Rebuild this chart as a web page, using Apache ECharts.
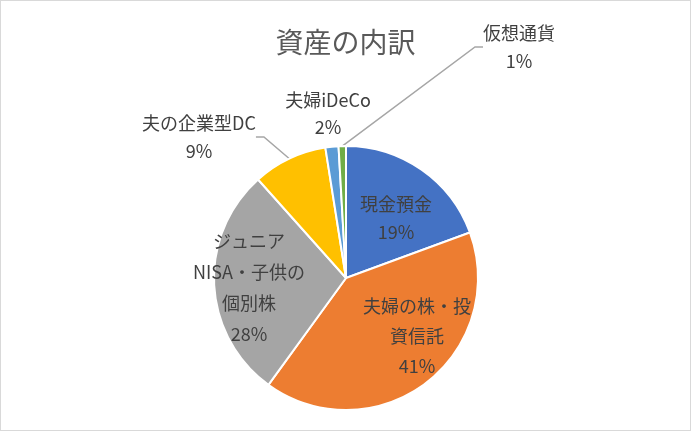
<!DOCTYPE html>
<html>
<head>
<meta charset="utf-8">
<script src="https://cdn.jsdelivr.net/npm/echarts@6/dist/echarts.min.js"></script>
<style>
  html, body { margin: 0; padding: 0; background: #fff; }
  #chart { width: 689px; height: 429px; border: 1px solid #d9d9d9; }
</style>
</head>
<body>
<div id="chart"></div>
<script>
// データ
var categories = ['現金預金', '夫婦の株・投資信託', 'ジュニアNISA・子供の個別株', '夫の企業型DC', '夫婦iDeCo', '仮想通貨'];
var labelNames = ['現金預金', '夫婦の株・投\n資信託', 'ジュニア\nNISA・子供の\n個別株', '夫の企業型DC', '夫婦iDeCo', '仮想通貨'];
var values = [19.4, 40.6, 28.4, 9.1, 1.6, 0.9];
var colors = ['#4472C4', '#ED7D31', '#A5A5A5', '#FFC000', '#5B9BD5', '#70AD47'];

// ラベルの位置 (中心)
var labelPos = [[395, 217], [416, 335], [248, 287], [198, 136], [327, 113], [518, 46]];
var lineHeights = [28, 30, 31, 28, 27, 28];

var font = '"Noto Sans CJK JP", "Noto Sans", sans-serif';

var chart = echarts.init(document.getElementById('chart'));
chart.setOption({
    animation: false,
    title: {
        text: '資産の内訳',
        left: 'center',
        top: 22,
        textStyle: { fontFamily: font, fontSize: 28, fontWeight: 'normal', color: '#595959' }
    },
    series: [{
        type: 'pie',
        center: [345, 277],
        radius: 132,
        startAngle: 90,
        clockwise: true,
        percentPrecision: 0,
        itemStyle: { borderColor: '#fff', borderWidth: 2 },
        label: {
            fontFamily: font,
            fontSize: 18,
            color: '#404040'
        },
        labelLine: { show: false, length2: 8, lineStyle: { color: '#a6a6a6', width: 1.5 } },
        labelLayout: function (p) {
            var pos = labelPos[p.dataIndex];
            return { x: pos[0], y: pos[1], align: 'center', verticalAlign: 'middle' };
        },
        data: categories.map(function (name, i) {
            var outside = i >= 3;
            return {
                name: name,
                value: values[i],
                itemStyle: { color: colors[i] },
                label: {
                    position: outside ? 'outside' : 'inside',
                    lineHeight: lineHeights[i],
                    formatter: labelNames[i] + '\n{d}%'
                },
                labelLine: { show: i === 3 || i === 5 }
            };
        })
    }]
});
</script>
</body>
</html>
